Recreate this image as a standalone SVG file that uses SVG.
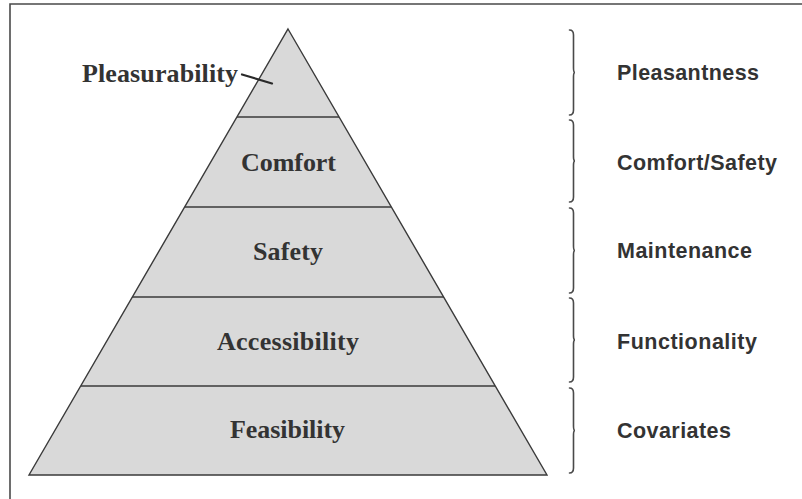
<svg xmlns="http://www.w3.org/2000/svg" width="802" height="499" viewBox="0 0 802 499">
  <style>
    .frame { fill: none; stroke: #4a4a4a; stroke-width: 1.6; }
    .tier { fill: #d9d9d9; stroke: #3a3a3a; stroke-width: 1.4; stroke-linejoin: miter; }
    .rule { stroke: #3a3a3a; stroke-width: 1.4; }
    .brace { fill: none; stroke: #4a4a4a; stroke-width: 1.6; stroke-linecap: round; }
    .lvl { font-family: "Liberation Serif", "Times New Roman", serif; font-weight: bold; font-size: 26px; fill: #333; text-anchor: middle; }
    .cat { font-family: "Liberation Sans", Arial, sans-serif; font-weight: bold; font-size: 21.5px; fill: #333; }
  </style>

  <rect width="802" height="499" fill="#ffffff"/>

  <!-- outer frame: top rule and left edge -->
  <path class="frame" d="M10,499 L10,4 L802,4"/>

  <!-- pyramid tiers, apex (288,29), base 29..547 at y=475 -->
  <g id="pyramid">
    <polygon class="tier" points="288,29 547,475 29,475"/>
  </g>

  <g id="connectors">
    <line class="rule" x1="237" y1="117" x2="339" y2="117"/>
    <line class="rule" x1="185" y1="207" x2="391" y2="207"/>
    <line class="rule" x1="132" y1="297" x2="444" y2="297"/>
    <line class="rule" x1="81" y1="386" x2="495" y2="386"/>
    <!-- leader from the top label into the apex tier -->
    <line x1="242" y1="74.5" x2="272" y2="83.5" stroke="#2a2a2a" stroke-width="2.2" stroke-linecap="round"/>
  </g>

  <g id="level-pleasurability"><text class="lvl" x="160" y="82" textLength="156">Pleasurability</text></g>
  <g id="level-comfort"><text class="lvl" x="288.5" y="171" textLength="95">Comfort</text></g>
  <g id="level-safety"><text class="lvl" x="288" y="260" textLength="70">Safety</text></g>
  <g id="level-accessibility"><text class="lvl" x="288" y="350" textLength="142">Accessibility</text></g>
  <g id="level-feasibility"><text class="lvl" x="287.5" y="438" textLength="115">Feasibility</text></g>

  <!-- right-hand braces grouping the tiers -->
  <g id="braces">
    <path class="brace" d="M569.5,30 Q573.5,30 573.5,35 L573.5,68 Q573.5,72.5 575,72.5 Q573.5,72.5 573.5,77 L573.5,110 Q573.5,115 569.5,115"/>
    <path class="brace" d="M569.5,120 Q573.5,120 573.5,125 L573.5,157 Q573.5,161 575,161 Q573.5,161 573.5,165 L573.5,197 Q573.5,202 569.5,202"/>
    <path class="brace" d="M569.5,208 Q573.5,208 573.5,213 L573.5,246 Q573.5,250.5 575,250.5 Q573.5,250.5 573.5,255 L573.5,288 Q573.5,293 569.5,293"/>
    <path class="brace" d="M569.5,298 Q573.5,298 573.5,303 L573.5,336 Q573.5,340 575,340 Q573.5,340 573.5,344 L573.5,377 Q573.5,382 569.5,382"/>
    <path class="brace" d="M569.5,388 Q573.5,388 573.5,393 L573.5,426 Q573.5,430.5 575,430.5 Q573.5,430.5 573.5,435 L573.5,468 Q573.5,473 569.5,473"/>
  </g>

  <g id="cat-pleasantness"><text class="cat" x="617" y="80" textLength="142">Pleasantness</text></g>
  <g id="cat-comfort-safety"><text class="cat" x="617" y="170" textLength="160">Comfort/Safety</text></g>
  <g id="cat-maintenance"><text class="cat" x="617" y="258" textLength="135">Maintenance</text></g>
  <g id="cat-functionality"><text class="cat" x="617" y="349" textLength="140">Functionality</text></g>
  <g id="cat-covariates"><text class="cat" x="617" y="438" textLength="114">Covariates</text></g>
</svg>
